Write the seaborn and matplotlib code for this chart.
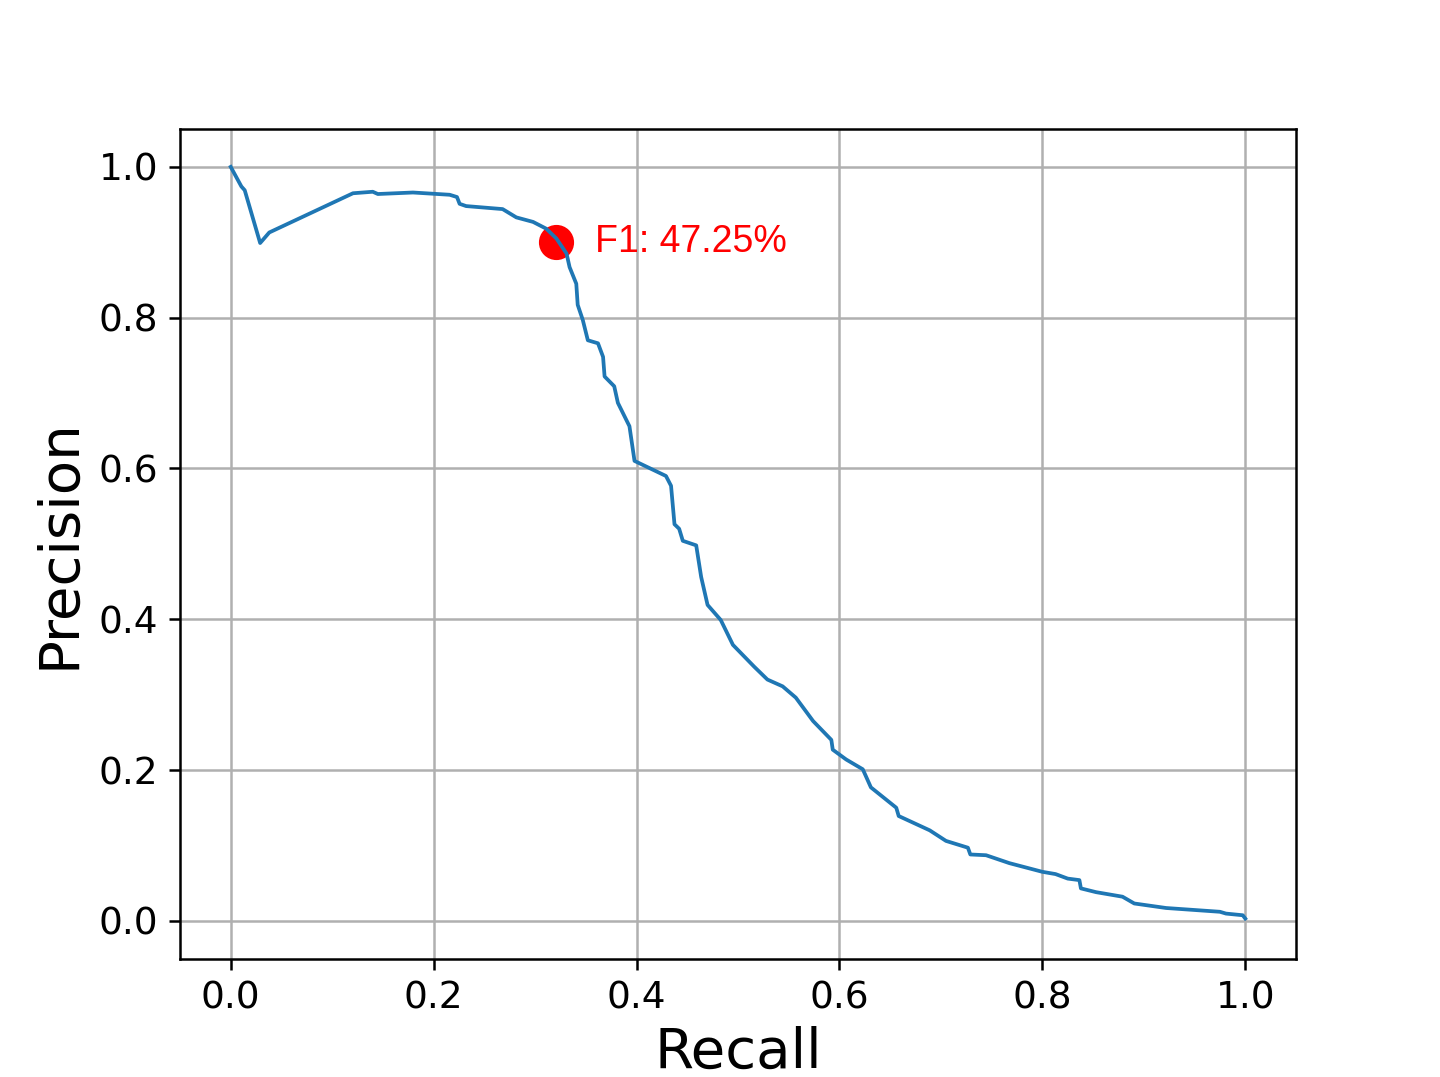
import matplotlib
matplotlib.use("Agg")
import matplotlib.pyplot as plt
import seaborn as sns
import pandas as pd

# ------------------------
# Data
# ------------------------
recall = [0.0, 0.0105, 0.0138, 0.029, 0.038, 0.1205, 0.140, 0.145, 0.1796, 0.2158,
          0.223, 0.2256, 0.232, 0.268, 0.2815, 0.298, 0.311, 0.321, 0.331, 0.334,
          0.3406, 0.342, 0.347, 0.352, 0.362, 0.367, 0.3685, 0.378, 0.3816, 0.393,
          0.398, 0.429, 0.434, 0.4374, 0.442, 0.4456, 0.4588, 0.4637, 0.470, 0.483,
          0.495, 0.516, 0.529, 0.544, 0.557, 0.574, 0.592, 0.5934, 0.6066, 0.623,
          0.631, 0.656, 0.6584, 0.689, 0.705, 0.7266, 0.729, 0.7445, 0.7675, 0.800,
          0.813, 0.825, 0.8365, 0.838, 0.853, 0.879, 0.8906, 0.922, 0.975, 0.981,
          0.9975, 1.0]
precision = [1.0, 0.974, 0.969, 0.899, 0.913, 0.965, 0.967, 0.964, 0.966, 0.963,
             0.960, 0.951, 0.948, 0.944, 0.933, 0.927, 0.918, 0.905, 0.885, 0.867,
             0.845, 0.817, 0.797, 0.770, 0.766, 0.748, 0.722, 0.709, 0.687, 0.656,
             0.610, 0.590, 0.577, 0.526, 0.520, 0.504, 0.498, 0.456, 0.419, 0.399,
             0.366, 0.337, 0.320, 0.311, 0.296, 0.265, 0.240, 0.227, 0.214, 0.201,
             0.177, 0.150, 0.139, 0.120, 0.106, 0.097, 0.088, 0.087, 0.0765, 0.065,
             0.062, 0.056, 0.054, 0.043, 0.038, 0.032, 0.023, 0.017, 0.012, 0.0096,
             0.0074, 0.003]

best_recall = [0.321]
best_precision = [0.901]
best_label = "F1: 47.25%"

df = pd.DataFrame({"Recall": recall, "Precision": precision})

# ------------------------
# Plot
# ------------------------
fig, ax = plt.subplots(figsize=(6.4, 4.787), dpi=225)
fig.subplots_adjust(left=0.125, right=0.9, bottom=0.11, top=0.88)

sns.lineplot(data=df, x="Recall", y="Precision", sort=False, estimator=None,
             color="#1f77b4", linewidth=1.2, ax=ax, zorder=3)
ax.scatter(best_recall, best_precision, s=105, color="red", zorder=2)
ax.text(best_recall[0] + 0.038, best_precision[0], best_label, color="red",
        fontsize=12, family=["Liberation Sans", "DejaVu Sans"], va="center")

ax.set_xlim(-0.05, 1.05)
ax.set_ylim(-0.05, 1.05)
ax.set_xticks([0.0, 0.2, 0.4, 0.6, 0.8, 1.0])
ax.set_yticks([0.0, 0.2, 0.4, 0.6, 0.8, 1.0])
ax.tick_params(labelsize=12)
ax.set_xlabel("Recall", fontsize=18, labelpad=3)
ax.set_ylabel("Precision", fontsize=18)
ax.grid(True, color="#b0b0b0", linewidth=0.8)
ax.set_axisbelow(True)

fig.savefig("out.png", dpi=225)
